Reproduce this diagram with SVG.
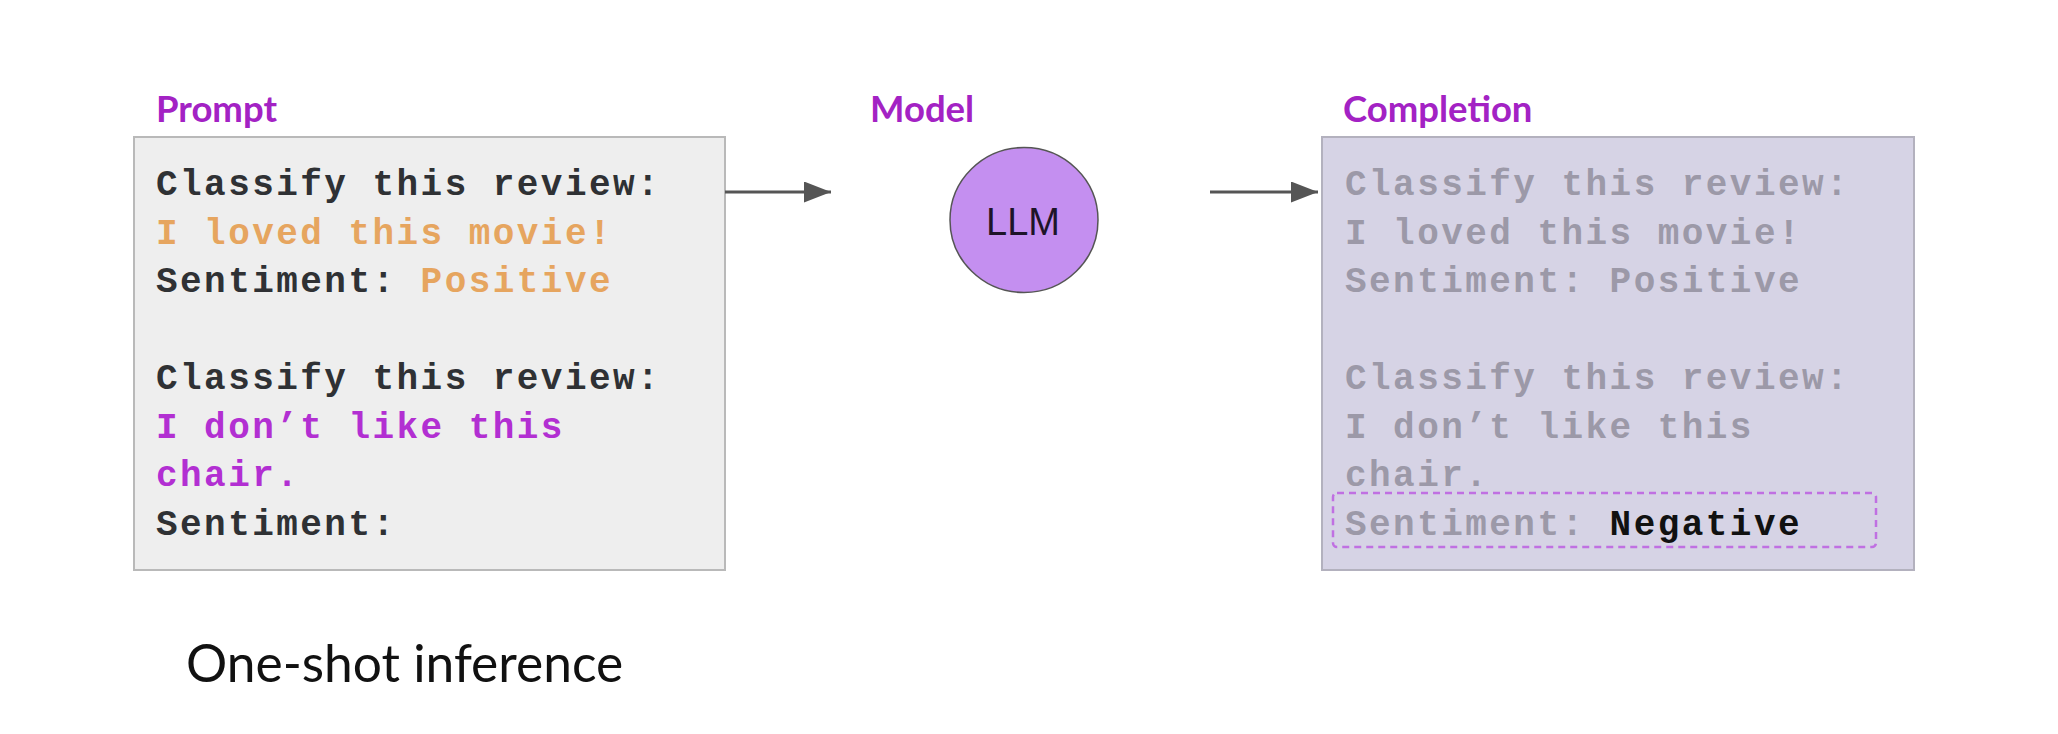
<svg xmlns="http://www.w3.org/2000/svg" width="2058" height="734" viewBox="0 0 2058 734">
<style>
.title{font-family:Lato,"Open Sans",sans-serif;font-weight:bold;font-size:36.5px;fill:#a322c4}
.mono{font-family:"Liberation Mono","Courier New",monospace;font-weight:bold;font-size:36px;letter-spacing:2.45px}
.dark{fill:#2f3134}
.orange{fill:#e6a55f}
.purple{fill:#b22fd2}
.gray{fill:#9c99a8}
.neg{fill:#111111}
.conn{stroke:#555555;stroke-width:3;fill:none}
</style>
<defs>
<marker id="arrow" markerWidth="9" markerHeight="7" refX="9" refY="3.5" orient="auto" markerUnits="strokeWidth">
<path d="M0,0 L9,3.5 L0,7 Z" fill="#555555"/>
</marker>
</defs>
<rect width="2058" height="734" fill="#ffffff"/>

<g id="prompt">
<text class="title" x="156" y="122">Prompt</text>
<rect x="134" y="137" width="591" height="433" fill="#eeeeee" stroke="#b9b9b9" stroke-width="2"/>
<text class="mono dark" x="156" y="195">Classify this review:</text>
<text class="mono orange" x="156" y="243.5">I loved this movie!</text>
<text class="mono" x="156" y="292"><tspan class="dark">Sentiment: </tspan><tspan class="orange">Positive</tspan></text>
<text class="mono dark" x="156" y="389">Classify this review:</text>
<text class="mono purple" x="156" y="437.5">I don’t like this</text>
<text class="mono purple" x="156" y="486">chair.</text>
<text class="mono dark" x="156" y="534.5">Sentiment:</text>
</g>

<g id="model">
<text class="title" x="870" y="122">Model</text>
<ellipse cx="1024" cy="220" rx="74" ry="72.5" fill="#c48ff0" stroke="#555555" stroke-width="1.5"/>
<text x="1023" y="235" text-anchor="middle" font-family="'Liberation Sans',Arial,sans-serif" font-size="38" fill="#1e1428">LLM</text>
</g>

<g id="completion">
<text class="title" x="1343" y="122">Completion</text>
<rect x="1322" y="137" width="592" height="433" fill="#d6d3e5" stroke="#b3b1be" stroke-width="2"/>
<text class="mono gray" x="1345" y="195">Classify this review:</text>
<text class="mono gray" x="1345" y="243.5">I loved this movie!</text>
<text class="mono gray" x="1345" y="292">Sentiment: Positive</text>
<text class="mono gray" x="1345" y="389">Classify this review:</text>
<text class="mono gray" x="1345" y="437.5">I don’t like this</text>
<text class="mono gray" x="1345" y="486">chair.</text>
<rect x="1333" y="493" width="543" height="54" rx="4" fill="none" stroke="#c070e2" stroke-width="2.5" stroke-dasharray="7 5"/>
<text class="mono" x="1345" y="534.5"><tspan class="gray">Sentiment: </tspan><tspan class="neg">Negative</tspan></text>
</g>

<g id="connectors">
<line class="conn" x1="725" y1="192" x2="831" y2="192" marker-end="url(#arrow)"/>
<line class="conn" x1="1210" y1="192" x2="1318" y2="192" marker-end="url(#arrow)"/>
</g>

<g id="caption">
<text x="186" y="682" font-family="Lato,'Open Sans',sans-serif" font-size="51.5" fill="#111111">One-shot inference</text>
</g>
</svg>
